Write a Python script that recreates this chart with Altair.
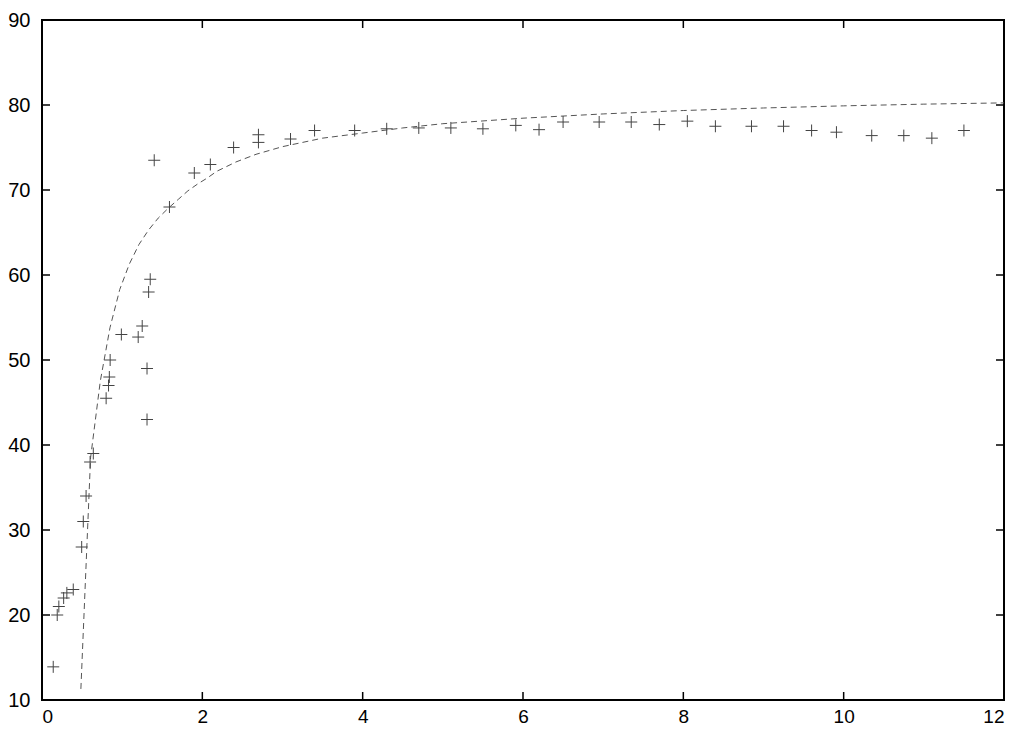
import altair as alt
import pandas as pd

# measured points
px = [0.14, 0.19, 0.21, 0.27, 0.31, 0.39, 0.495, 0.515, 0.55, 0.60, 0.64,
      0.80, 0.83, 0.84, 0.85, 0.99, 1.20, 1.25, 1.31, 1.31, 1.33, 1.35, 1.40,
      1.59, 1.90, 2.10, 2.39, 2.70, 2.70, 3.10, 3.40, 3.90, 4.30, 4.70, 5.10,
      5.50, 5.91, 6.20, 6.50, 6.95, 7.35, 7.70, 8.05, 8.40, 8.85, 9.25, 9.60,
      9.91, 10.35, 10.75, 11.10, 11.50]
py = [13.9, 20.0, 21.0, 22.0, 22.6, 23.0, 28.0, 31.0, 34.0, 38.0, 39.0,
      45.5, 47.0, 48.0, 50.0, 53.0, 52.7, 54.0, 49.0, 43.0, 58.0, 59.5, 73.5,
      68.0, 72.0, 73.0, 75.0, 75.6, 76.5, 76.0, 77.0, 77.0, 77.2, 77.3, 77.3,
      77.2, 77.6, 77.1, 78.0, 78.0, 78.0, 77.7, 78.1, 77.5, 77.5, 77.5, 77.0,
      76.8, 76.4, 76.4, 76.1, 77.0]

# fitted curve
cx = [0.485, 0.606, 0.727, 0.848, 0.97, 1.09, 1.21, 1.33, 1.45, 1.58, 1.70,
      1.82, 1.94, 2.06, 2.18, 2.42, 2.67, 3.0, 3.5, 4.0, 4.5, 5.0, 6.0, 7.0,
      8.0, 9.0, 10.0, 11.0, 12.0]
cy = [11.3, 38.5, 47.5, 53.8, 58.3, 61.3, 63.6, 65.3, 66.7, 67.9, 68.9,
      69.9, 70.7, 71.4, 72.2, 73.3, 74.2, 75.1, 76.1, 76.7, 77.3, 77.8, 78.45,
      78.95, 79.35, 79.65, 79.9, 80.1, 80.25]

x_ticks = [0, 2, 4, 6, 8, 10, 12]
y_ticks = [10, 20, 30, 40, 50, 60, 70, 80, 90]

W, H = 962, 680
xs = alt.Scale(domain=[0, 12], nice=False, zero=False)
ys = alt.Scale(domain=[10, 90], nice=False, zero=False)

pts = pd.DataFrame({"x": px, "y": py})
crv = pd.DataFrame({"x": cx, "y": cy})
xt = pd.DataFrame({"t": x_ticks})
yt = pd.DataFrame({"t": y_ticks})

axis_x = alt.Axis(values=x_ticks, title=None, domain=False, ticks=False, tickSize=0,
                  grid=False, labelFontSize=19, labelFont="Liberation Sans",
                  labelColor="black", labelPadding=7, format="d")
axis_y = alt.Axis(values=y_ticks, title=None, domain=False, ticks=False, tickSize=0,
                  grid=False, labelFontSize=20, labelFont="Liberation Sans",
                  labelColor="black", labelPadding=12, format="d")

curve = alt.Chart(crv).mark_line(color="#555555", strokeWidth=1,
                                 strokeDash=[6, 4], clip=True).encode(
    x=alt.X("x:Q", scale=xs, axis=axis_x),
    y=alt.Y("y:Q", scale=ys, axis=axis_y),
)

points = alt.Chart(pts).mark_point(
    shape="M-1,0L1,0M0,-1L0,1", size=144, filled=False,
    color="#444444", strokeWidth=1, opacity=1
).encode(
    x=alt.X("x:Q", scale=xs),
    y=alt.Y("y:Q", scale=ys),
)

tick_style = dict(color="black", strokeWidth=1.5)
bottom = alt.Chart(xt).mark_rule(**tick_style).encode(
    x=alt.X("t:Q", scale=xs), y=alt.value(H), y2=alt.value(H - 8))
top = alt.Chart(xt).mark_rule(**tick_style).encode(
    x=alt.X("t:Q", scale=xs), y=alt.value(0), y2=alt.value(8))
left = alt.Chart(yt).mark_rule(**tick_style).encode(
    y=alt.Y("t:Q", scale=ys), x=alt.value(0), x2=alt.value(8))
right = alt.Chart(yt).mark_rule(**tick_style).encode(
    y=alt.Y("t:Q", scale=ys), x=alt.value(W), x2=alt.value(W - 8))

chart = alt.layer(curve, points, bottom, top, left, right).properties(
    width=W, height=H,
    autosize=alt.AutoSizeParams(type="none"),
    padding={"left": 34, "top": 12, "right": 12, "bottom": 29},
    background="white",
).configure_view(stroke="black", strokeWidth=2)

chart.save("out.html", embed_options={"renderer": "svg", "actions": False})
